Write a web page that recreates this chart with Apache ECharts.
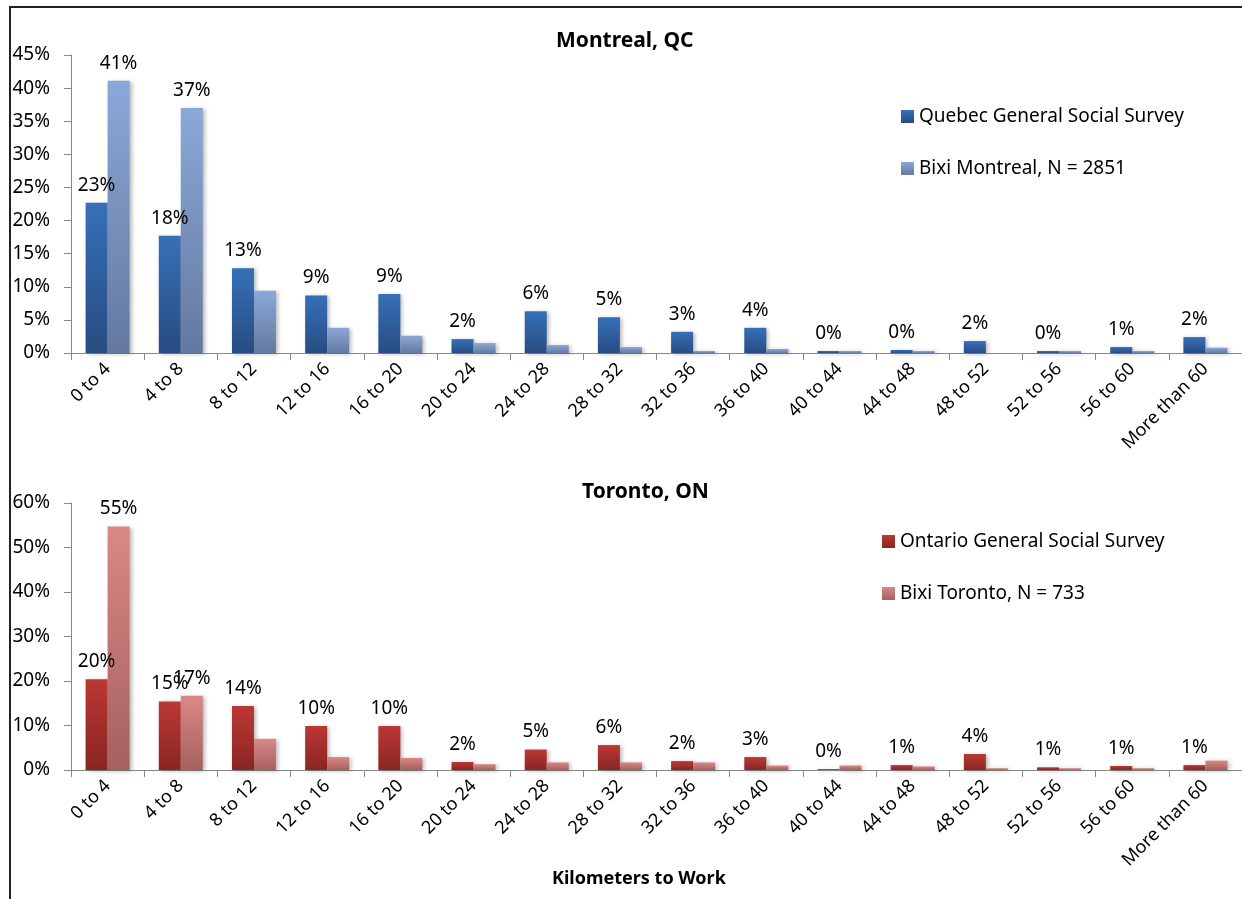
<!DOCTYPE html>
<html>
<head>
<meta charset="utf-8">
<script src="https://cdn.jsdelivr.net/npm/echarts@6/dist/echarts.min.js"></script>
<style>
html,body{margin:0;padding:0;background:#fff;}
#chart{width:1242px;height:899px;}
</style>
</head>
<body>
<div id="chart"></div>
<script>
// ---- data (percent of respondents) ----
const categories = ['0 to 4','4 to 8','8 to 12','12 to 16','16 to 20','20 to 24','24 to 28','28 to 32',
  '32 to 36','36 to 40','40 to 44','44 to 48','48 to 52','52 to 56','56 to 60','More than 60'];
const quebecGSS    = [22.7, 17.7, 12.8, 8.7, 8.9, 2.1, 6.3, 5.4, 3.2, 3.8, 0.3, 0.45, 1.8, 0.3, 0.9, 2.4];
const bixiMontreal = [41.1, 37.0, 9.4, 3.8, 2.6, 1.5, 1.2, 0.9, 0.3, 0.6, 0.3, 0.3, 0, 0.3, 0.3, 0.8];
const ontarioGSS   = [20.4, 15.4, 14.4, 9.9, 9.9, 1.8, 4.6, 5.6, 2.0, 2.9, 0.2, 1.1, 3.6, 0.6, 0.9, 1.1];
const bixiToronto  = [54.7, 16.7, 7.0, 2.9, 2.7, 1.3, 1.7, 1.7, 1.7, 1.0, 1.0, 0.8, 0.4, 0.4, 0.4, 2.1];
const montrealTicks = [0, 5, 10, 15, 20, 25, 30, 35, 40, 45];
const torontoTicks  = [0, 10, 20, 30, 40, 50, 60];
const seriesNames = ['Quebec General Social Survey', 'Bixi Montreal, N = 2851',
  'Ontario General Social Survey', 'Bixi Toronto, N = 733'];
const bixiLabelledCount = 2; // only the first two Bixi bars carry value labels

const FONT = 'Noto Sans';
const FS = 19;
function grad(top, bottom) {
  return new echarts.graphic.LinearGradient(0, 0, 0, 1, [{offset: 0, color: top}, {offset: 1, color: bottom}]);
}
const colors = {
  qc: grad('#3670b8', '#284c82'),
  bm: grad('#8aa8d8', '#6579a0'),
  on: grad('#bb3835', '#8a2523'),
  bt: grad('#da8886', '#a4615f')
};
const shadow = {shadowColor: 'rgba(0,0,0,0.28)', shadowBlur: 4, shadowOffsetX: 2, shadowOffsetY: 1};
const pct = p => Math.round(p.value) + '%';

function xAxis(gridIndex) {
  return {
    type: 'category', gridIndex, data: categories,
    axisLine: {lineStyle: {color: '#888', width: 1}},
    axisTick: {show: true, length: 7, lineStyle: {color: '#888'}, alignWithLabel: false},
    axisLabel: {rotate: 45, interval: 0, margin: 13, color: '#000', fontFamily: FONT, fontSize: 18}
  };
}
function yAxis(gridIndex, ticks) {
  return {
    type: 'value', gridIndex, min: ticks[0], max: ticks[ticks.length - 1],
    interval: ticks[1] - ticks[0],
    axisLine: {show: true, lineStyle: {color: '#888'}},
    axisTick: {show: true, length: 7, lineStyle: {color: '#888'}},
    splitLine: {show: false},
    axisLabel: {formatter: '{value}%', margin: 21, color: '#000', fontFamily: FONT, fontSize: FS}
  };
}
function bar(name, data, idx, color, labelAll) {
  return {
    name, type: 'bar', xAxisIndex: idx, yAxisIndex: idx, data,
    barWidth: 22, barGap: '0%',
    itemStyle: Object.assign({color}, shadow),
    label: {
      show: true, position: 'top', distance: 8, color: '#000', fontFamily: FONT, fontSize: FS,
      formatter: p => (labelAll || p.dataIndex < bixiLabelledCount) ? pct(p) : ''
    }
  };
}
const legendText = {fontFamily: FONT, fontSize: FS, color: '#000'};

const chart = echarts.init(document.getElementById('chart'), null, {renderer: 'canvas'});
chart.setOption({
  animation: false,
  backgroundColor: '#fff',
  textStyle: {fontFamily: FONT},
  title: [
    {text: 'Montreal, QC', left: 556, top: 31, padding: 0, textStyle: {fontFamily: FONT, fontSize: 21, fontWeight: 'bold', color: '#000'}},
    {text: 'Toronto, ON', left: 582, top: 482, padding: 0, textStyle: {fontFamily: FONT, fontSize: 21, fontWeight: 'bold', color: '#000'}},
    {text: 'Kilometers to Work', left: 552, top: 870, padding: 0, textStyle: {fontFamily: FONT, fontSize: 18, fontWeight: 'bold', color: '#000'}}
  ],
  legend: [
    {data: seriesNames.slice(0, 2), orient: 'vertical', left: 901, top: 107, itemGap: 33, padding: 0,
      itemWidth: 13, itemHeight: 13, icon: 'rect', textStyle: legendText},
    {data: seriesNames.slice(2, 4), orient: 'vertical', left: 882, top: 532, itemGap: 33, padding: 0,
      itemWidth: 13, itemHeight: 13, icon: 'rect', textStyle: legendText}
  ],
  grid: [
    {left: 71, right: 0, top: 55, height: 298},
    {left: 71, right: 0, top: 503, height: 267}
  ],
  xAxis: [xAxis(0), xAxis(1)],
  yAxis: [yAxis(0, montrealTicks), yAxis(1, torontoTicks)],
  series: [
    bar(seriesNames[0], quebecGSS, 0, colors.qc, true),
    bar(seriesNames[1], bixiMontreal, 0, colors.bm, false),
    bar(seriesNames[2], ontarioGSS, 1, colors.on, true),
    bar(seriesNames[3], bixiToronto, 1, colors.bt, false)
  ],
  graphic: [
    {type: 'polyline', shape: {points: [[10, 899], [10, 7], [1242, 7]]}, style: {stroke: '#222', lineWidth: 2, fill: null}, silent: true}
  ]
});
</script>
</body>
</html>
